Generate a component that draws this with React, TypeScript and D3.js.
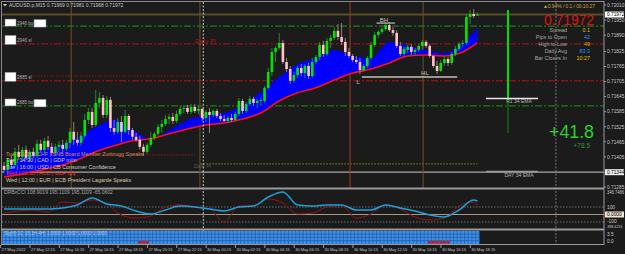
import React from "react";
import * as d3 from "d3";

// ---------- DATA ----------
// M15 candles [open, high, low, close], 27 May 2022 10:15 -> 30 May 2022 18:30
const candles: [number, number, number, number][] = [
  [0.71369, 0.71385, 0.71345, 0.71353], [0.71353, 0.71401, 0.71341, 0.71393], [0.71393, 0.71409, 0.71361, 0.71373],
  [0.71373, 0.71441, 0.71365, 0.71425], [0.71425, 0.71453, 0.71393, 0.71405], [0.71405, 0.71445, 0.71385, 0.71433],
  [0.71433, 0.71449, 0.71393, 0.71401], [0.71401, 0.71433, 0.71385, 0.71425], [0.71425, 0.71441, 0.71401, 0.71409],
  [0.71409, 0.71473, 0.71401, 0.71457], [0.71457, 0.71473, 0.71425, 0.71433], [0.71433, 0.71481, 0.71421, 0.71469],
  [0.71469, 0.71489, 0.71433, 0.71445], [0.71445, 0.71461, 0.71409, 0.71421], [0.71421, 0.71457, 0.71409, 0.71445],
  [0.71445, 0.71469, 0.71425, 0.71453], [0.71453, 0.71473, 0.71425, 0.71437], [0.71437, 0.71473, 0.71429, 0.71461],
  [0.71461, 0.7152, 0.71441, 0.71505], [0.71505, 0.71544, 0.71453, 0.71473], [0.71473, 0.71505, 0.71449, 0.71461],
  [0.71461, 0.71505, 0.71449, 0.71489], [0.71489, 0.71576, 0.71481, 0.71552], [0.71552, 0.716, 0.71536, 0.71584],
  [0.71584, 0.716, 0.7152, 0.71532], [0.71532, 0.71672, 0.71524, 0.7162], [0.7162, 0.71664, 0.716, 0.7164],
  [0.7164, 0.71652, 0.7156, 0.71572], [0.71572, 0.71648, 0.7156, 0.71632], [0.71632, 0.71644, 0.71505, 0.7152],
  [0.7152, 0.71552, 0.71493, 0.71505], [0.71505, 0.7156, 0.71497, 0.71544], [0.71544, 0.71568, 0.71465, 0.71505],
  [0.71505, 0.71592, 0.71497, 0.71568], [0.71568, 0.71576, 0.71493, 0.71512], [0.71512, 0.7152, 0.71473, 0.71485],
  [0.71485, 0.71501, 0.71465, 0.71473], [0.71473, 0.71489, 0.71433, 0.71445], [0.71445, 0.71457, 0.71409, 0.71425],
  [0.71425, 0.71461, 0.71417, 0.71453], [0.71453, 0.71505, 0.71445, 0.71481], [0.71481, 0.71505, 0.71473, 0.71497],
  [0.71497, 0.71536, 0.71489, 0.71524], [0.71524, 0.71552, 0.71501, 0.71536], [0.71536, 0.71572, 0.71528, 0.71556],
  [0.71556, 0.71576, 0.71536, 0.71564], [0.71564, 0.7158, 0.71536, 0.71548], [0.71548, 0.71588, 0.7154, 0.71576],
  [0.71576, 0.71608, 0.71568, 0.71596], [0.71596, 0.71612, 0.7158, 0.716], [0.716, 0.71612, 0.71576, 0.71584],
  [0.71584, 0.71616, 0.71576, 0.71604], [0.71604, 0.71616, 0.7158, 0.71588], [0.71588, 0.71608, 0.71576, 0.71596],
  [0.71596, 0.716, 0.71548, 0.7156],
  [0.7156, 0.71592, 0.71544, 0.71584], [0.71584, 0.716, 0.71501, 0.71572], [0.71572, 0.71596, 0.71564, 0.71588],
  [0.71588, 0.71596, 0.7156, 0.71568], [0.71568, 0.7158, 0.71548, 0.71556], [0.71556, 0.71572, 0.71544, 0.71548],
  [0.71548, 0.71568, 0.7154, 0.7156], [0.7156, 0.71576, 0.71544, 0.71552], [0.71552, 0.71584, 0.71548, 0.71576],
  [0.71576, 0.7164, 0.71568, 0.71628], [0.71628, 0.71636, 0.71576, 0.71588], [0.71588, 0.71624, 0.7158, 0.71616],
  [0.71616, 0.71648, 0.71608, 0.71636], [0.71636, 0.71644, 0.71608, 0.7162], [0.7162, 0.71636, 0.716, 0.71628],
  [0.71628, 0.7164, 0.71608, 0.71632], [0.71628, 0.71688, 0.7162, 0.7168], [0.7168, 0.71759, 0.71672, 0.71743],
  [0.71743, 0.71839, 0.71727, 0.71823], [0.71823, 0.71847, 0.71783, 0.71839], [0.71839, 0.71899, 0.71831, 0.71859],
  [0.71859, 0.71871, 0.71775, 0.71783], [0.71783, 0.71799, 0.71743, 0.71755], [0.71755, 0.71767, 0.71696, 0.71708],
  [0.71708, 0.71743, 0.717, 0.71731], [0.71731, 0.71767, 0.71719, 0.71759], [0.71759, 0.71775, 0.71727, 0.71739],
  [0.71739, 0.71775, 0.71719, 0.71767], [0.71767, 0.71779, 0.71715, 0.71727], [0.71727, 0.71799, 0.71719, 0.71783],
  [0.71783, 0.71811, 0.71775, 0.71803], [0.71803, 0.71863, 0.71791, 0.71851], [0.71851, 0.71867, 0.71803, 0.71815],
  [0.71815, 0.71879, 0.71807, 0.71867], [0.71867, 0.71891, 0.71839, 0.71879], [0.71879, 0.71922, 0.71871, 0.71907],
  [0.71907, 0.71934, 0.71871, 0.71883], [0.71883, 0.71938, 0.71851, 0.71863], [0.71863, 0.71879, 0.71807, 0.71823],
  [0.71823, 0.71839, 0.71799, 0.71807], [0.71807, 0.71815, 0.71783, 0.71791], [0.71791, 0.71807, 0.71775, 0.71783],
  [0.71783, 0.71799, 0.71735, 0.71751], [0.71751, 0.71775, 0.71743, 0.71767], [0.71767, 0.71807, 0.71759, 0.71799],
  [0.71799, 0.71863, 0.71791, 0.71851], [0.71851, 0.71903, 0.71843, 0.71891], [0.71891, 0.7191, 0.71879, 0.71903],
  [0.71903, 0.71922, 0.71895, 0.71914], [0.71914, 0.71938, 0.71907, 0.7193], [0.7193, 0.71942, 0.71903, 0.7191],
  [0.7191, 0.71922, 0.71887, 0.71899], [0.71899, 0.7191, 0.71839, 0.71847], [0.71847, 0.71863, 0.71807, 0.71815],
  [0.71815, 0.71843, 0.71803, 0.71835], [0.71831, 0.71851, 0.71819, 0.71843], [0.71843, 0.71855, 0.71811, 0.71823],
  [0.71823, 0.71839, 0.71807, 0.71831], [0.71831, 0.71855, 0.71823, 0.71847], [0.71847, 0.71871, 0.71831, 0.71863],
  [0.71863, 0.71871, 0.71839, 0.71847], [0.71847, 0.71855, 0.71799, 0.71807], [0.71807, 0.71811, 0.71759, 0.71767],
  [0.71767, 0.71787, 0.71735, 0.71747], [0.71747, 0.71791, 0.71743, 0.71779], [0.71779, 0.71807, 0.71767, 0.71795],
  [0.71795, 0.71803, 0.71767, 0.71779], [0.71779, 0.71823, 0.71771, 0.71815], [0.71815, 0.71847, 0.71807, 0.71835],
  [0.71835, 0.71863, 0.71827, 0.71855], [0.71855, 0.71871, 0.71843, 0.71859], [0.71859, 0.71974, 0.71851, 0.71962],
  [0.71962, 0.7199, 0.71934, 0.71974], [0.71974, 0.71994, 0.71958, 0.71966], [0.71969, 0.71981, 0.71968, 0.71972],
];

// moving-average band (fast = blue fill top, slow = red line), sampled at bar indices
const emaIdx = [0, 5, 10, 15, 20, 25, 30, 35, 40, 45, 50, 55, 60, 65, 70, 75, 80, 85, 90, 95, 100, 105, 110, 115, 120, 125, 129];
const emaFast = [0.71353, 0.71401, 0.71433, 0.71449, 0.71481, 0.71524, 0.71552, 0.71512, 0.71477, 0.71512, 0.71552, 0.71572, 0.7158, 0.71612, 0.71664, 0.71723, 0.71775, 0.71799, 0.71831, 0.71807, 0.71799, 0.71863, 0.71847, 0.71831, 0.71819, 0.71859, 0.71918];
const emaSlow = [0.71325, 0.71337, 0.71353, 0.71369, 0.71393, 0.71425, 0.71449, 0.71469, 0.71477, 0.71497, 0.71516, 0.71532, 0.7154, 0.71556, 0.7158, 0.71628, 0.7166, 0.7168, 0.71711, 0.71739, 0.71755, 0.71779, 0.71807, 0.71811, 0.71807, 0.71823, 0.71859];

// CCI sub-window, sampled at bar indices
const cciIdx = [0, 4, 8, 12, 16, 20, 24, 28, 32, 36, 40, 44, 48, 52, 56, 60, 64, 68, 72, 76, 80, 84, 88, 92, 96, 100, 104, 108, 112, 116, 120, 124, 128, 129];
const cciMain = [73, 73, 73, 73, 87, 127, 220, 140, 113, 47, 7, 60, 113, 100, 73, 47, 100, 113, 233, 300, 127, 113, 127, 127, 60, 60, 127, 87, 47, -7, -33, 60, 193, 180];
const cciSignal = [20, 47, 60, 33, 167, 153, 193, 140, -7, -47, -20, 100, 127, 100, 73, -100, 113, 113, 207, 153, 7, 20, 100, 113, -47, 7, 127, 73, -33, -73, -47, 113, 167, 113];

// signal strip: bars flagged red
const redSignalBars = [37, 38, 39, 116, 117, 118, 119, 120, 121];

const priceTicks = [0.7201, 0.7195, 0.7189, 0.71825, 0.71765, 0.71705, 0.71645, 0.71585, 0.71525, 0.71465, 0.71405, 0.71285];
const bidPrice = 0.71972;
const dayEma = 0.71344;
const r1Ema = 0.71638;

const timeLabels = ["27 May 2022", "27 May 12:15", "27 May 14:15", "27 May 16:15", "27 May 18:15", "27 May 20:15", "27 May 22:15",
  "30 May 00:15", "30 May 02:15", "30 May 04:15", "30 May 06:15", "30 May 08:15", "30 May 10:15", "30 May 12:15",
  "30 May 14:15", "30 May 16:15", "30 May 18:15"];
const timeLabelBars = [0, 8, 16, 24, 32, 40, 48, 56, 64, 72, 80, 88, 96, 104, 112, 120, 128];

const buyLevels = [0.71926, 0.71608];
const buyLabels = ["2946 buy", "2885 buy"];
const slLevels = [0.71855, 0.71708];
const slLabels = ["2946 sl", "2885 sl"];
const pivotDotted = [0.71727, 0.71413];
const lowerDotted = 0.71377;

const sessionBars = [18.3, 53.4, 114.2];
const redMarkerBar = 94.3;
const separatorBars = [54.3, 150.4];

const swingNames = ["BH", "L", "HL"];
const swingBars = [103.5, 96.5, 114.7];
const bhLevel = 0.71938;
const lLevel = 0.71723;

const dailyBar = { high: 0.7199, open: 0.7164, low: 0.715 };

const calendar = [
  "Tue | 11:30 | CHF | SNB Board Member Zurbrugg Speaks",
  "Tue | 14:30 | CAD | GDP m/m",
  "Tue | 16:00 | USD | CB Consumer Confidence",
  "Wed | 02:30 | AUD | GDP q/q",
  "Wed | 12:00 | EUR | ECB President Lagarde Speaks",
];

const infoLabels = ["Spread", "Pips to Open", "High to Low", "Daily Avg", "Bar Closes In"];
const infoValues = ["0.1", "42", "49", "83.3", "10:27"];

const F = "'Liberation Sans', Arial, sans-serif";

export default function App() {
  const W = 625, H = 254, AX = 604;
  const x = d3.scaleLinear().domain([0, 129]).range([4, 477.4]);
  const y = d3.scaleLinear().domain([0.71285, 0.7201]).range([187, 5]);
  const yC = d3.scaleLinear().domain([-100, 100]).range([222, 207]);
  const step = x(1) - x(0);
  const bw = 2.6;

  const ei = d3.range(emaIdx.length);
  const area = d3.area<number>().x(i => x(emaIdx[i])).y0(i => y(emaSlow[i])).y1(i => y(emaFast[i])).curve(d3.curveMonotoneX);
  const slow = d3.line<number>().x(i => x(emaIdx[i])).y(i => y(emaSlow[i])).curve(d3.curveMonotoneX);
  const ci = d3.range(cciIdx.length);
  const cciPath = (arr: number[]) => d3.line<number>().x(i => x(cciIdx[i])).y(i => yC(arr[i])).curve(d3.curveMonotoneX)(ci) || "";

  const dashDot = "7,2,2,2";
  const infoColors = ["#e6c200", "#2f8fff", "#e6b000", "#2f8fff", "#e6c200"];
  const calColors = ["#c89060", "#d0d0d0", "#d0d0d0", "#ff3030", "#d8c8a8"];

  return (
    <svg width={W} height={H} style={{ position: "absolute", left: 0, top: 0, background: "#1b1b1b" }} fontFamily={F}>
      <defs>
        <clipPath id="mainClip"><rect x={2} y={2} width={AX - 2} height={186} /></clipPath>
        <clipPath id="cciClip"><rect x={2} y={190} width={AX - 2} height={39} /></clipPath>
      </defs>
      <rect x={0} y={0} width={W} height={H} fill="#1b1b1b" />

      {/* main panel */}
      <g clipPath="url(#mainClip)">
        {buyLevels.map((p, i) => (
          <line key={"b" + i} x1={2} x2={AX} y1={y(p)} y2={y(p)} stroke="#1f8f1f" strokeWidth={1} strokeDasharray={dashDot} />
        ))}
        {slLevels.map((p, i) => (
          <line key={"s" + i} x1={2} x2={AX} y1={y(p)} y2={y(p)} stroke="#b41414" strokeWidth={1} strokeDasharray={dashDot} />
        ))}
        {pivotDotted.map((p, i) => (
          <line key={"pd" + i} x1={2} x2={x(52)} y1={y(p)} y2={y(p)} stroke="#a01010" strokeWidth={1} strokeDasharray="1.5,1.5" />
        ))}
        <line x1={x(53.5)} x2={x(129)} y1={y(lowerDotted)} y2={y(lowerDotted)} stroke="#8c8a10" strokeWidth={1} strokeDasharray="1.5,1.5" />
        <line x1={2} x2={AX} y1={y(dayEma)} y2={y(dayEma)} stroke="#a8a8a8" strokeWidth={1.2} />
        <line x1={2} x2={AX} y1={y(bidPrice)} y2={y(bidPrice)} stroke="#5a4e22" strokeWidth={2} />

        {sessionBars.map((b, i) => (
          <line key={"sv" + i} x1={x(b)} x2={x(b)} y1={2} y2={188} stroke="#6b5524" strokeWidth={1} />
        ))}
        <line x1={x(redMarkerBar)} x2={x(redMarkerBar)} y1={2} y2={188} stroke="#a53a1c" strokeWidth={1} />

        <path d={area(ei) || ""} fill="#0000ff" />
        <path d={slow(ei) || ""} fill="none" stroke="#ff1010" strokeWidth={1.6} />

        {candles.map(([o, h, l, c], i) => {
          const bull = c >= o;
          const cx = x(i);
          const top = y(Math.max(o, c));
          const bot = y(Math.min(o, c));
          return (
            <g key={i}>
              <line x1={cx} x2={cx} y1={y(h)} y2={y(l)} stroke={bull ? "#3a9a3a" : "#b89494"} strokeWidth={0.8} />
              <rect x={cx - bw / 2} y={top} width={bw} height={Math.max(1, bot - top)} fill={bull ? "#00e600" : "#ffc4c8"} />
            </g>
          );
        })}

        <line x1={x(101.5)} x2={x(106.5)} y1={y(bhLevel)} y2={y(bhLevel)} stroke="#a0a0a0" strokeWidth={1.5} />
        <line x1={x(97.5)} x2={x(123.5)} y1={y(lLevel)} y2={y(lLevel)} stroke="#c8c0b0" strokeWidth={1.5} />
        <text x={x(swingBars[0])} y={y(bhLevel) - 1.5} fontSize={6} fill="#c0c0c0" textAnchor="middle">{swingNames[0]}</text>
        <text x={x(swingBars[1])} y={y(lLevel) + 6.5} fontSize={6} fill="#c0c0c0" textAnchor="middle">{swingNames[1]}</text>
        <text x={x(swingBars[2])} y={y(lLevel) - 2.5} fontSize={6} fill="#c0c0c0" textAnchor="middle">{swingNames[2]}</text>

        {buyLevels.map((p, i) => (
          <g key={"bb" + i}>
            <rect x={5} y={y(p) - 7} width={11} height={7} fill="#ffffff" stroke="#888" strokeWidth={0.5} />
            <rect x={34} y={y(p) - 6.5} width={12} height={7.5} fill="#ffffff" stroke="#888" strokeWidth={0.5} />
            <text x={17} y={y(p) - 1.5} fontSize={4.5} fill="#b0b0b0">{buyLabels[i]}</text>
          </g>
        ))}
        {slLevels.map((p, i) => (
          <g key={"sb" + i}>
            <rect x={5} y={y(p) - 8.5} width={11} height={9} fill="#ffffff" stroke="#888" strokeWidth={0.5} />
            <text x={17} y={y(p) - 1.5} fontSize={4.5} fill="#b0b0b0">{slLabels[i]}</text>
          </g>
        ))}
        <text x={195} y={y(slLevels[0]) - 1} fontSize={6} fill="#b01818">Daily PI</text>
        <text x={194} y={y(lowerDotted) + 4.5} fontSize={5} fill="#5a5a5a">Daily PI</text>

        {calendar.map((t, i) => (
          <text key={"cal" + i} x={6} y={155.5 + i * 6.6} fontSize={5.4} fill={calColors[i]}>{t}</text>
        ))}

        <line x1={508} x2={508} y1={y(dailyBar.high)} y2={y(dailyBar.open)} stroke="#00dd00" strokeWidth={2} />
        <line x1={508} x2={508} y1={y(dailyBar.open)} y2={y(dailyBar.low)} stroke="#0a8a0a" strokeWidth={1} />

        <line x1={486} x2={538} y1={y(r1Ema)} y2={y(r1Ema)} stroke="#e8e8e8" strokeWidth={1.5} />
        <text x={519} y={y(r1Ema) + 5} fontSize={5} fill="#b8b8b8" textAnchor="middle">R1 34 EMA</text>
        <line x1={486} x2={538} y1={y(dayEma) - 0.8} y2={y(dayEma) - 0.8} stroke="#9a9a9a" strokeWidth={1.5} />
        <text x={519} y={y(dayEma) + 5} fontSize={5} fill="#b8b8b8" textAnchor="middle">DAY 34 EMA</text>

        <text x={595} y={8} fontSize={5} fill="#d0a040" textAnchor="end" textLength={52}>▲0.94% / 0.1 / 00:10:27</text>
        <text x={594} y={25} fontSize={14} fill="#e01010" textAnchor="end" textLength={50} lengthAdjust="spacingAndGlyphs">0.71972</text>
        {infoLabels.map((t, i) => (
          <text key={"il" + i} x={567} y={31.5 + i * 7.1} fontSize={5.4} fill="#a8a8a8" textAnchor="end">{t}</text>
        ))}
        {infoValues.map((t, i) => (
          <text key={"iv" + i} x={590} y={31.5 + i * 7.1} fontSize={5.4} fill={infoColors[i]} textAnchor="end">{t}</text>
        ))}
        <text x={594} y={138} fontSize={18} fill="#2ed12e" textAnchor="end" textLength={45} lengthAdjust="spacingAndGlyphs">+41.8</text>
        <text x={590} y={148} fontSize={6.5} fill="#2e9a2e" textAnchor="end">+78.5</text>

        <path d="M3,4 L7,4 L5,6.5 Z" fill="#d0d0d0" />
        <text x={9} y={7} fontSize={5} fill="#c8c8c8">AUDUSD.p,M15  0.71969 0.71981 0.71968 0.71972</text>
      </g>

      {separatorBars.map((b, i) => (
        <line key={"sep" + i} x1={x(b)} x2={x(b)} y1={2} y2={244} stroke={i === 0 ? "#c8c8c8" : "#7a7a7a"} strokeWidth={1} strokeDasharray="2,1.5" />
      ))}

      {/* CCI panel */}
      <line x1={2} x2={AX} y1={yC(100)} y2={yC(100)} stroke="#6a6a6a" strokeDasharray="1.5,1.5" />
      <line x1={2} x2={AX} y1={yC(-100)} y2={yC(-100)} stroke="#6a6a6a" strokeDasharray="1.5,1.5" />
      <line x1={2} x2={AX} y1={yC(0)} y2={yC(0)} stroke="#a89880" strokeWidth={1.2} />
      <g clipPath="url(#cciClip)">
        <path d={cciPath(cciSignal)} fill="none" stroke="#9a1010" strokeWidth={1} />
        <path d={cciPath(cciMain)} fill="none" stroke="#1e9ed8" strokeWidth={1.5} />
      </g>
      <text x={4} y={194} fontSize={5} fill="#a8a8a8">DRBxCCI 108.9019 195.1109 195.1109 -65.0602</text>

      {/* signal strip */}
      <rect x={x(0) - step / 2} y={231} width={x(129) - x(0) + step} height={13} fill="#3d8fe8" />
      {d3.range(131).map(i => (
        <line key={"gv" + i} x1={x(i) - step / 2} x2={x(i) - step / 2} y1={231} y2={244} stroke="#1d5aa8" strokeWidth={0.7} />
      ))}
      {[234.2, 237.4, 240.6].map((gy, i) => (
        <line key={"gh" + i} x1={x(0) - step / 2} x2={x(129) + step / 2} y1={gy} y2={gy} stroke="#1d5aa8" strokeWidth={0.7} />
      ))}
      {redSignalBars.map(b => (
        <rect key={"rs" + b} x={x(b) - step / 2 + 0.4} y={241} width={step - 0.8} height={2.6} fill="#e01010" />
      ))}
      <text x={4} y={235} fontSize={4.6} fill="#cfe2ff" opacity={0.75}>Sig(tf):1C:15,1H,4H) 1.0000 1.0000 1.0000 1.0000</text>

      {/* frames */}
      <line x1={1} x2={AX} y1={1.5} y2={1.5} stroke="#8a8a8a" />
      <line x1={1.5} x2={1.5} y1={1} y2={244} stroke="#8a8a8a" />
      <line x1={1} x2={AX} y1={188.5} y2={188.5} stroke="#9a9a9a" strokeWidth={1.8} />
      <line x1={1} x2={AX} y1={229.5} y2={229.5} stroke="#9a9a9a" strokeWidth={1.8} />
      <line x1={1} x2={AX} y1={244.5} y2={244.5} stroke="#9a9a9a" strokeWidth={1.2} />
      <line x1={AX} x2={AX} y1={1} y2={245} stroke="#9a9a9a" />

      {/* price axis */}
      {priceTicks.map((p, i) => (
        <g key={"pt" + i}>
          <line x1={AX} x2={AX + 2} y1={y(p)} y2={y(p)} stroke="#9a9a9a" />
          <text x={607} y={y(p) + 1.8} fontSize={4.8} fill="#c8c8c8">{p.toFixed(5)}</text>
        </g>
      ))}
      {[bidPrice, dayEma].map((p, i) => (
        <g key={"hl" + i}>
          <rect x={605} y={y(p) - 3} width={19} height={6} fill={i === 0 ? "#ffffff" : "#f0f0f0"} />
          <text x={607} y={y(p) + 1.8} fontSize={4.8} fill="#000">{p.toFixed(5)}</text>
        </g>
      ))}
      <text x={607} y={193.5} fontSize={4.6} fill="#c8c8c8" textLength={17} lengthAdjust="spacingAndGlyphs">348.7486</text>
      <text x={607} y={yC(100) + 1.8} fontSize={4.8} fill="#c8c8c8">100</text>
      <rect x={605} y={yC(0) - 3} width={19} height={6} fill="#efe3cc" />
      <text x={607} y={yC(0) + 1.8} fontSize={4.8} fill="#000">0.0000</text>
      <text x={607} y={yC(-100) + 1.3} fontSize={4.8} fill="#c8c8c8">-100</text>
      <text x={606} y={228} fontSize={4.4} fill="#c8c8c8" textLength={16.5} lengthAdjust="spacingAndGlyphs">-398.4231</text>
      <text x={607} y={235.5} fontSize={4.8} fill="#c8c8c8">3.5</text>
      <text x={607} y={243} fontSize={4.8} fill="#c8c8c8">0.0</text>

      {/* time axis */}
      {timeLabels.map((t, i) => (
        <g key={"tl" + i}>
          <line x1={x(timeLabelBars[i]) - 3.4} x2={x(timeLabelBars[i]) - 3.4} y1={245} y2={248} stroke="#9a9a9a" />
          <text x={x(timeLabelBars[i]) - 2.4} y={251} fontSize={4.4} fill="#c8c8c8" textLength={24} lengthAdjust="spacingAndGlyphs">{t}</text>
        </g>
      ))}
    </svg>
  );
}
